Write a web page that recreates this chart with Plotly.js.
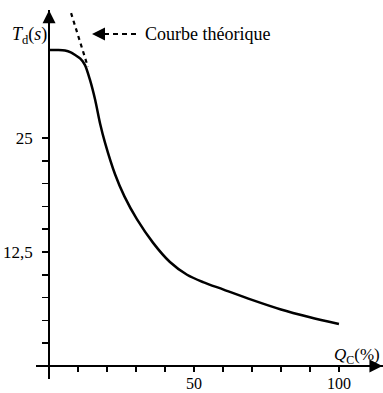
<!DOCTYPE html>
<html>
<head>
<meta charset="utf-8">
<script src="https://cdn.plot.ly/plotly-3.0.1.min.js"></script>
<style>html,body{margin:0;padding:0;background:#fff;}#chart{width:383px;height:393px;}</style>
</head>
<body>
<div id="chart"></div>
<script>
// Measured curve: Td (s) versus Qc (%)
const qc = [0, 3, 5.5, 7.5, 9.0, 10.8, 12.4, 14.1, 15.9, 17.6, 19.3, 22.8, 26.0, 30.3, 35.9, 41.7, 47.6, 53.1, 60, 70, 80, 90, 100];
const td = [34.65, 34.65, 34.6, 34.4, 34.1, 33.7, 33.0, 31.4, 29.2, 26.6, 24.5, 21.0, 18.6, 16.1, 13.5, 11.4, 10.0, 9.2, 8.4, 7.25, 6.2, 5.35, 4.6];
// Theoretical curve (dashed)
const qcTheo = [7.6, 10.5, 13.4];
const tdTheo = [38.7, 35.7, 32.8];
// Ticks
const xTickVals = [10, 20, 30, 40, 50, 60, 70, 80, 90, 100];
const xTickText = ['', '', '', '', '50', '', '', '', '', '100'];
const yTickVals = [2.5, 5, 7.5, 10, 12.5, 15, 17.5, 20, 22.5, 25];
const yTickText = ['', '', '', '', '12,5', '', '', '', '', '25'];
const legendText = 'Courbe théorique';

const xr = [-4.5, 115.2];
const yr = [-1.43, 39.04];
const serif = 'Liberation Serif, Times New Roman, serif';
const W = 383, H = 393, ML = 36, MR = 0, MT = 10, MB = 14;
const px = v => (v - ML) / (W - ML - MR);
const py = v => 1 - (v - MT) / (H - MT - MB);

const traces = [
  {x: qc, y: td, type: 'scatter', mode: 'lines', line: {color: '#000', width: 2.5, shape: 'spline', smoothing: 0.8}, hoverinfo: 'skip'},
  {x: qcTheo, y: tdTheo, type: 'scatter', mode: 'lines', line: {color: '#000', width: 2.2, dash: '4px,4px'}, hoverinfo: 'skip'}
];

const arrowAnn = (o) => Object.assign({text: '&nbsp;', font: {size: 1}, showarrow: true, arrowhead: 2,
  arrowsize: 1.3, arrowwidth: 2, arrowcolor: '#000', standoff: 0, startstandoff: 0}, o);

const layout = {
  width: W, height: H,
  margin: {l: ML, r: MR, t: MT, b: MB},
  paper_bgcolor: '#fff', plot_bgcolor: '#fff',
  showlegend: false,
  font: {family: serif, color: '#000', size: 15},
  xaxis: {
    range: xr, anchor: 'free', position: (0 - yr[0]) / (yr[1] - yr[0]),
    showgrid: false, zeroline: false, showline: true, linecolor: '#000', linewidth: 2,
    tickmode: 'array', tickvals: xTickVals, ticktext: xTickText,
    ticks: 'outside', ticklen: 5, tickwidth: 1.5, tickcolor: '#000',
    tickfont: {family: serif, size: 16, color: '#000'}, ticklabelstandoff: -2,
    fixedrange: true
  },
  yaxis: {
    range: yr, anchor: 'free', position: (0 - xr[0]) / (xr[1] - xr[0]),
    showgrid: false, zeroline: false, showline: true, linecolor: '#000', linewidth: 2,
    tickmode: 'array', tickvals: yTickVals, ticktext: yTickText,
    ticks: 'outside', ticklen: 6, tickwidth: 1.5, tickcolor: '#000',
    tickfont: {family: serif, size: 17, color: '#000'}, ticklabelstandoff: 6,
    fixedrange: true
  },
  shapes: [
    {type: 'line', xref: 'paper', yref: 'paper', x0: px(104), x1: px(138),
     y0: py(34), y1: py(34), line: {color: '#000', width: 2, dash: '5px,4px'}}
  ],
  annotations: [
    arrowAnn({x: 0, y: 39.0, xref: 'x', yref: 'y', ax: 0, ay: 16}),
    arrowAnn({x: 115.0, y: 0, xref: 'x', yref: 'y', ax: -16, ay: 0}),
    arrowAnn({x: px(92), y: py(34), xref: 'paper', yref: 'paper', ax: 14, ay: 0}),
    {x: px(143), y: py(34), xref: 'paper', yref: 'paper', text: legendText, showarrow: false,
     xanchor: 'left', yanchor: 'middle', font: {family: serif, size: 18, color: '#000'}},
    {x: px(29), y: py(35), xref: 'paper', yref: 'paper',
     text: '<i>T</i><sub>d</sub>(<i>s</i>)', showarrow: false, xanchor: 'center', yanchor: 'middle',
     font: {family: serif, size: 18, color: '#000'}},
    {x: px(357), y: py(356), xref: 'paper', yref: 'paper',
     text: '<i>Q</i><sub>C</sub>(%)', showarrow: false, xanchor: 'center', yanchor: 'middle',
     font: {family: serif, size: 17, color: '#000'}}
  ]
};

Plotly.newPlot('chart', traces, layout, {staticPlot: true, displayModeBar: false});
</script>
</body>
</html>
